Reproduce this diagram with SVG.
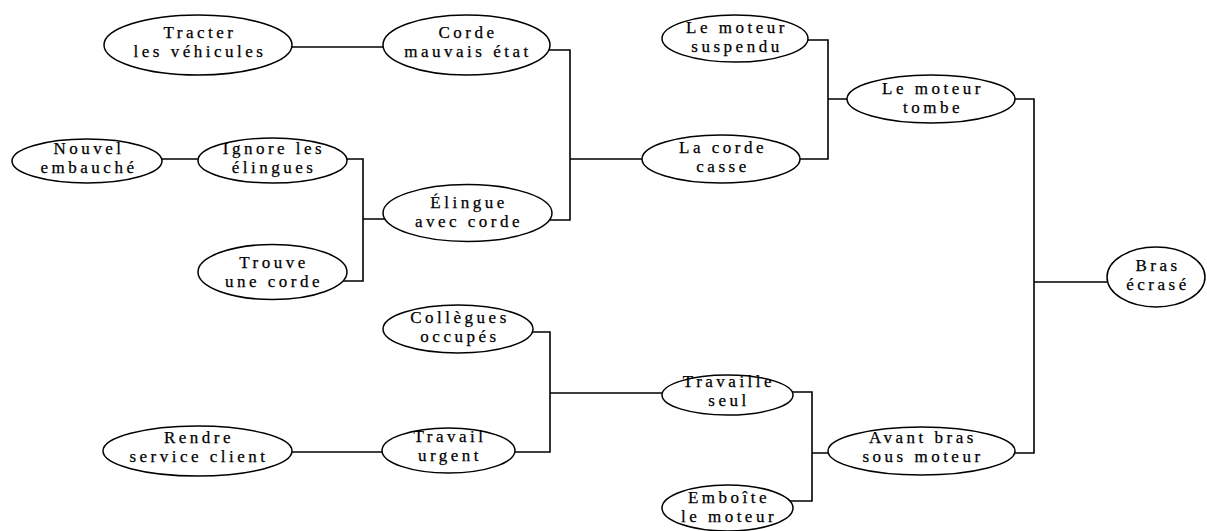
<svg xmlns="http://www.w3.org/2000/svg" width="1207" height="531" viewBox="0 0 1207 531">
<style>
.n ellipse{fill:#fff;stroke:#000;stroke-width:1.5}
.n text{font-family:"Liberation Serif","Times New Roman",serif;font-size:17px;letter-spacing:3.5px;text-anchor:middle;fill:#000;stroke:#000;stroke-width:0.25}
#connectors path{fill:none;stroke:#000;stroke-width:1.6}
</style>
<rect width="1207" height="531" fill="#fff"/>
<g id="connectors">
<path d="M280 47H395"/>
<path d="M540 50H570V220H540M570 159H652"/>
<path d="M150 159H210"/>
<path d="M337 159H363V281H337M363 219H395"/>
<path d="M798 40H828V159H790M828 99H858"/>
<path d="M1005 99H1034V453H1005M1034 282H1118"/>
<path d="M523 332H550V452H505M550 393H672"/>
<path d="M280 452H394"/>
<path d="M783 392H812V501H783M812 453H840"/>
</g>
<g id="n-tracter" class="n"><ellipse cx="198" cy="45" rx="94" ry="30"/><text x="200" y="38">Tracter</text><text x="200" y="57">les véhicules</text></g>
<g id="n-corde-mauvais" class="n"><ellipse cx="466.5" cy="45" rx="83.5" ry="30"/><text x="468" y="38">Corde</text><text x="468" y="57">mauvais état</text></g>
<g id="n-nouvel" class="n"><ellipse cx="87" cy="161" rx="75" ry="22"/><text x="89" y="154">Nouvel</text><text x="89" y="173">embauché</text></g>
<g id="n-ignore" class="n"><ellipse cx="272.5" cy="160.5" rx="74.5" ry="22.5"/><text x="274" y="154">Ignore les</text><text x="274" y="173">élingues</text></g>
<g id="n-trouve" class="n"><ellipse cx="272.5" cy="272" rx="74.5" ry="27.5"/><text x="274" y="268">Trouve</text><text x="274" y="287">une corde</text></g>
<g id="n-elingue" class="n"><ellipse cx="467.5" cy="213" rx="84.5" ry="28.5"/><text x="469" y="208">Élingue</text><text x="469" y="227">avec corde</text></g>
<g id="n-corde-casse" class="n"><ellipse cx="721" cy="159" rx="79" ry="24"/><text x="723" y="153">La corde</text><text x="723" y="172">casse</text></g>
<g id="n-moteur-suspendu" class="n"><ellipse cx="735" cy="38.5" rx="73" ry="23.5"/><text x="737" y="33">Le moteur</text><text x="737" y="52">suspendu</text></g>
<g id="n-moteur-tombe" class="n"><ellipse cx="931" cy="99" rx="84" ry="24"/><text x="933" y="94">Le moteur</text><text x="933" y="113">tombe</text></g>
<g id="n-bras" class="n"><ellipse cx="1156" cy="277" rx="49" ry="30"/><text x="1158" y="271">Bras</text><text x="1158" y="290">écrasé</text></g>
<g id="n-collegues" class="n"><ellipse cx="458" cy="329" rx="75" ry="24"/><text x="460" y="323">Collègues</text><text x="460" y="342">occupés</text></g>
<g id="n-travail-urgent" class="n"><ellipse cx="448.5" cy="450.5" rx="66.5" ry="22.5"/><text x="450" y="442">Travail</text><text x="450" y="461">urgent</text></g>
<g id="n-rendre" class="n"><ellipse cx="197.5" cy="451" rx="94.5" ry="25"/><text x="199" y="443">Rendre</text><text x="199" y="462">service client</text></g>
<g id="n-travaille-seul" class="n"><ellipse cx="727.5" cy="395" rx="65.5" ry="20"/><text x="729" y="387">Travaille</text><text x="729" y="406">seul</text></g>
<g id="n-emboite" class="n"><ellipse cx="727.5" cy="508" rx="65.5" ry="23"/><text x="729" y="503">Emboîte</text><text x="729" y="522">le moteur</text></g>
<g id="n-avant-bras" class="n"><ellipse cx="921.5" cy="451" rx="93.5" ry="24"/><text x="923" y="443">Avant bras</text><text x="923" y="462">sous moteur</text></g>
</svg>
